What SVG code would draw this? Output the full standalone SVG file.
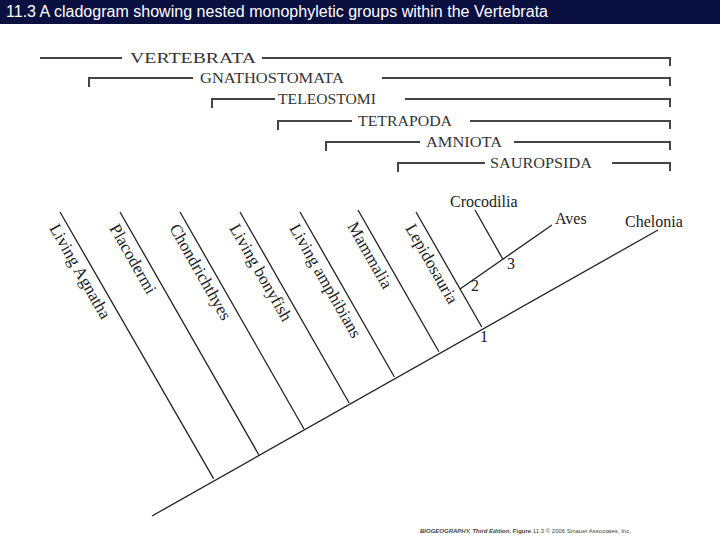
<svg xmlns="http://www.w3.org/2000/svg" width="720" height="540" viewBox="0 0 720 540">
<style>
.l{stroke:#222;stroke-width:1.3;fill:none}
.b{stroke:#444;stroke-width:2;fill:none}
.t{font-family:"Liberation Serif",serif;font-size:17px;fill:#222}
.g{font-family:"Liberation Serif",serif;font-size:15px;fill:#333}
</style>
<rect width="720" height="540" fill="#fff"/>
<rect x="0" y="0" width="720" height="24" fill="#0a1040"/>
<text x="6" y="17" font-family="Liberation Sans,sans-serif" font-size="16" fill="#fff" textLength="542">11.3  A cladogram showing nested monophyletic groups within the Vertebrata</text>
<g id="groups">
<path class="b" d="M40 58H122M262 58H670V66"/><text class="g" x="130" y="63" textLength="126" lengthAdjust="spacingAndGlyphs">VERTEBRATA</text>
<path class="b" d="M89 87V78H193M382 78H670V86" stroke-width="1.5"/><text class="g" x="200" y="83" textLength="144" lengthAdjust="spacingAndGlyphs">GNATHOSTOMATA</text>
<path class="b" d="M212 108V99H275M405 99H670V107"/><text class="g" x="278" y="104" textLength="98" lengthAdjust="spacingAndGlyphs">TELEOSTOMI</text>
<path class="b" d="M278 130V121H352M470 121H670V129" stroke-width="1.5"/><text class="g" x="358" y="126" textLength="94" lengthAdjust="spacingAndGlyphs">TETRAPODA</text>
<path class="b" d="M326 151V142H420M514 142H670V150" stroke-width="1.5"/><text class="g" x="426" y="147" textLength="76" lengthAdjust="spacingAndGlyphs">AMNIOTA</text>
<path class="b" d="M398 172V163H485M612 163H670V171"/><text class="g" x="490" y="168" textLength="102" lengthAdjust="spacingAndGlyphs">SAUROPSIDA</text>
</g>
<g id="connectors">
<path class="l" d="M152 516L658 230"/>
<path class="l" d="M60 212L213.6 478.6"/>
<path class="l" d="M120 212L258.8 454.8"/>
<path class="l" d="M180 212L304 429"/>
<path class="l" d="M240 212L349.2 403"/>
<path class="l" d="M300 212L394.4 377"/>
<path class="l" d="M358 210L438.9 351.7"/>
<path class="l" d="M416 212L481.8 327"/>
<path class="l" d="M460 289L552 225"/>
<path class="l" d="M475 210L503 259.5"/>
</g>
<g id="taxa" class="t">
<text transform="translate(49,228) rotate(60.3)">Living Agnatha</text>
<text transform="translate(109,228) rotate(60.3)">Placodermi</text>
<text transform="translate(169,228) rotate(60.3)">Chondrichthyes</text>
<text transform="translate(229,228) rotate(60.3)">Living bonyfish</text>
<text transform="translate(289,228) rotate(60.3)">Living amphibians</text>
<text transform="translate(347,226) rotate(60.3)">Mammalia</text>
<text transform="translate(405,228) rotate(60.3)">Lepidosauria</text>
<text x="450" y="207" font-size="16">Crocodilia</text>
<text x="555" y="224" font-size="16">Aves</text>
<text x="625" y="227" font-size="16">Chelonia</text>
<text x="507" y="269" font-size="16">3</text>
<text x="471" y="291" font-size="16">2</text>
<text x="480" y="342" font-size="16">1</text>
</g>
<text x="420" y="533" font-family="Liberation Sans,sans-serif" font-size="6" fill="#444"><tspan font-weight="bold" font-style="italic">BIOGEOGRAPHY, Third Edition,</tspan> <tspan font-weight="bold">Figure</tspan> 11.3  © 2006 Sinauer Associates, Inc.</text>
</svg>
